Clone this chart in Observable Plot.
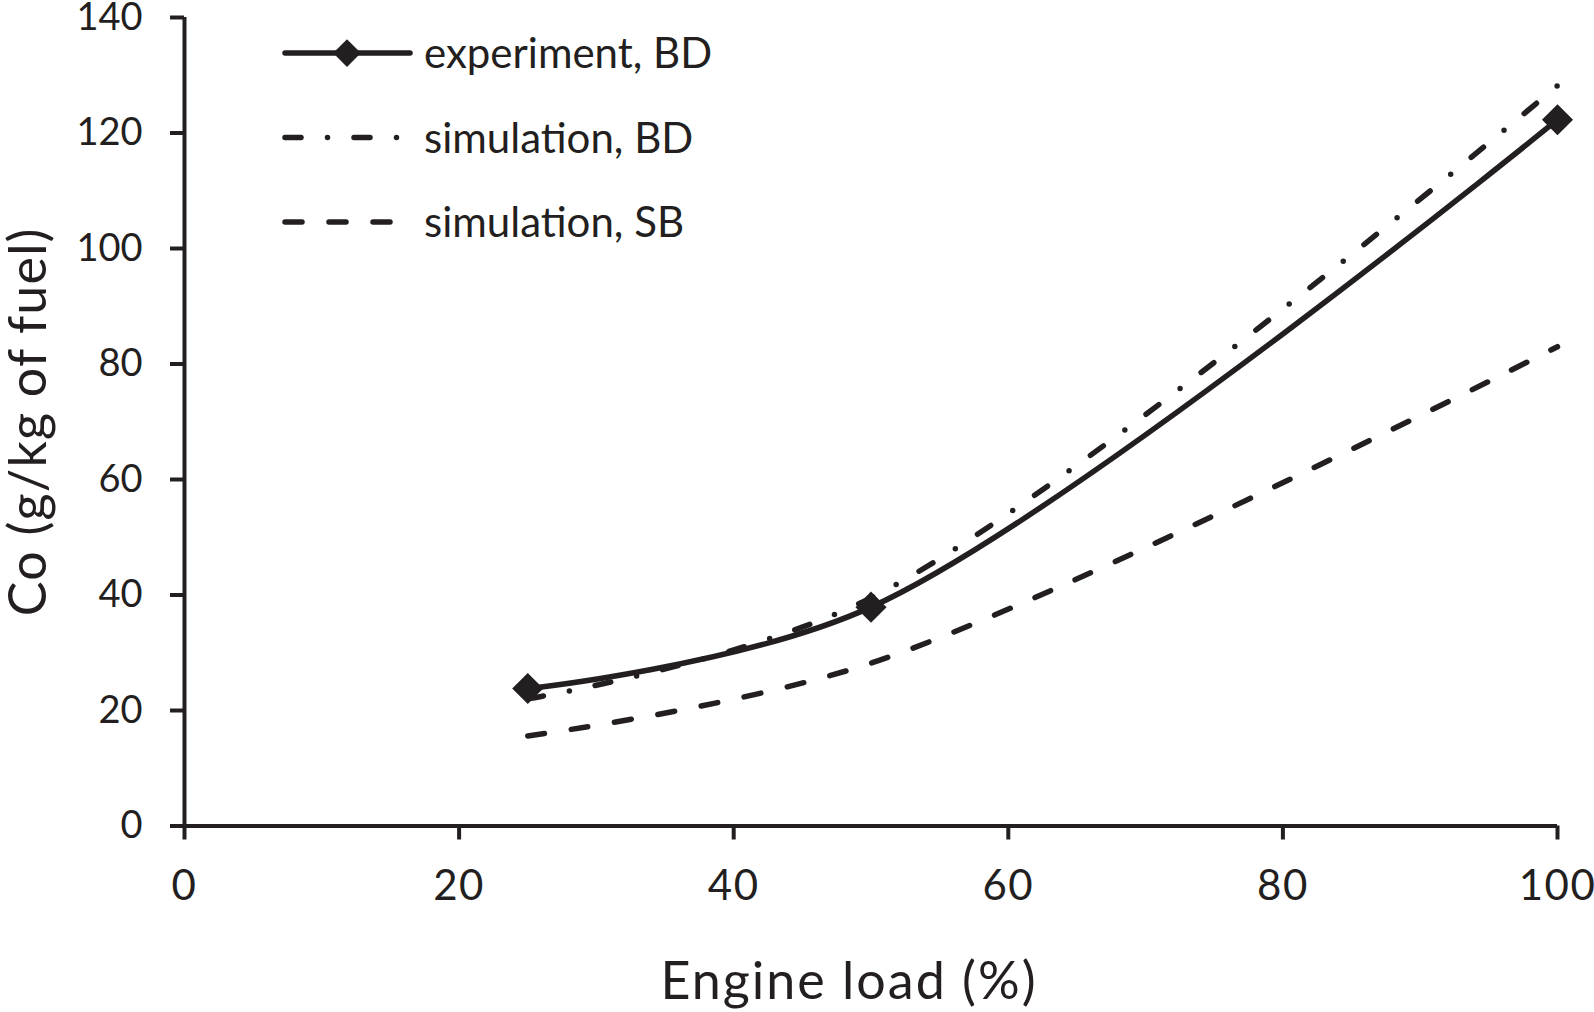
<!DOCTYPE html>
<html><head><meta charset="utf-8">
<script src="https://cdn.jsdelivr.net/npm/d3@7"></script>
<script src="https://cdn.jsdelivr.net/npm/@observablehq/plot@0.6"></script>
<style>
body{margin:0;background:#fff;}
#wrap{position:relative;width:1594px;height:1012px;overflow:hidden;background:#fff;}
#legend{position:absolute;left:0;top:0;pointer-events:none;}
#wrap svg [aria-label="x-axis tick label"] text{letter-spacing:1.5px;}
#wrap svg .x-title text{letter-spacing:2px;}
#wrap svg .y-title text{letter-spacing:1.2px;}
</style></head><body><div id="wrap"></div>
<script>
// ---- data ----
const loads = [25, 50, 100];
const experimentBD = [23.8, 37.9, 122.3];
const simulationBD = [22.0, 39.5, 128.2];
const simulationSB = [15.6, 28.2, 83.0];
const seriesNames = ["experiment, BD", "simulation, BD", "simulation, SB"];
const xTicks = [0, 20, 40, 60, 80, 100];
const yTicks = [0, 20, 40, 60, 80, 100, 120, 140];
const xLabel = "Engine load (%)";
const yLabel = "Co (g/kg of fuel)";

const ink = "#231f20";
const seriesValues = [experimentBD, simulationBD, simulationSB];
const rows = seriesNames.map((name, i) => loads.map((l, j) => ({series: name, load: l, value: seriesValues[i][j]})));
const dashes = [null, "16 26.5 0 26.5", "17 27"];

const lineMark = (i) => Plot.line(rows[i], {
  x: "load", y: "value", curve: "catmull-rom", stroke: ink, strokeWidth: 5.5,
  strokeLinecap: "round", strokeLinejoin: "round",
  ...(dashes[i] ? {strokeDasharray: dashes[i]} : {})
});

const chart = Plot.plot({
  width: 1594, height: 1012,
  marginLeft: 184, marginRight: 37, marginTop: 17, marginBottom: 186.5,
  style: {fontFamily: "Lato, sans-serif", color: ink, background: "white", overflow: "visible"},
  x: {domain: [0, 100]},
  y: {domain: [0, 140]},
  marks: [
    Plot.axisY({ticks: yTicks, tickSize: 14, tickPadding: 28, fontSize: 38, strokeWidth: 4, label: null, tickFormat: d => String(d)}),
    Plot.axisX({ticks: xTicks, tickSize: 14, tickPadding: 30, fontSize: 42, strokeWidth: 4, label: null, tickFormat: d => String(d)}),
    Plot.ruleX([0], {stroke: ink, strokeWidth: 4}),
    Plot.ruleY([0], {stroke: ink, strokeWidth: 4}),
    lineMark(2),
    lineMark(1),
    lineMark(0),
    Plot.dot(rows[0], {x: "load", y: "value", symbol: "diamond2", r: 14, fill: ink, stroke: "none"}),
    Plot.text([xLabel], {frameAnchor: "bottom", textAnchor: "middle", lineAnchor: "middle", dy: 156, dx: -22, fontSize: 52, fill: ink, className: "x-title"}),
    Plot.text([yLabel], {frameAnchor: "left", textAnchor: "middle", lineAnchor: "middle", rotate: -90, dx: -155.5, fontSize: 52, fill: ink, className: "y-title"})
  ]
});
document.getElementById("wrap").appendChild(chart);

// ---- legend overlay ----
const leg = d3.select("#wrap").append("svg").attr("id", "legend")
  .attr("width", 1594).attr("height", 1012);
seriesNames.forEach((name, i) => {
  const ly = 53 + 84.5 * i;
  const ln = leg.append("line").attr("x1", 285).attr("x2", 410).attr("y1", ly).attr("y2", ly)
    .attr("stroke", ink).attr("stroke-width", 5.5).attr("stroke-linecap", "round");
  if (dashes[i]) ln.attr("stroke-dasharray", dashes[i]);
  if (i === 0) {
    leg.append("path").attr("d", d3.symbol(d3.symbolDiamond2, Math.PI * 12.5 * 12.5)())
      .attr("transform", `translate(347,${ly})`).attr("fill", ink);
  }
  leg.append("text").attr("x", 424).attr("y", ly + 15).attr("font-family", "Lato, sans-serif")
    .attr("font-size", 42).attr("fill", ink).text(name);
});
</script>
</body></html>
